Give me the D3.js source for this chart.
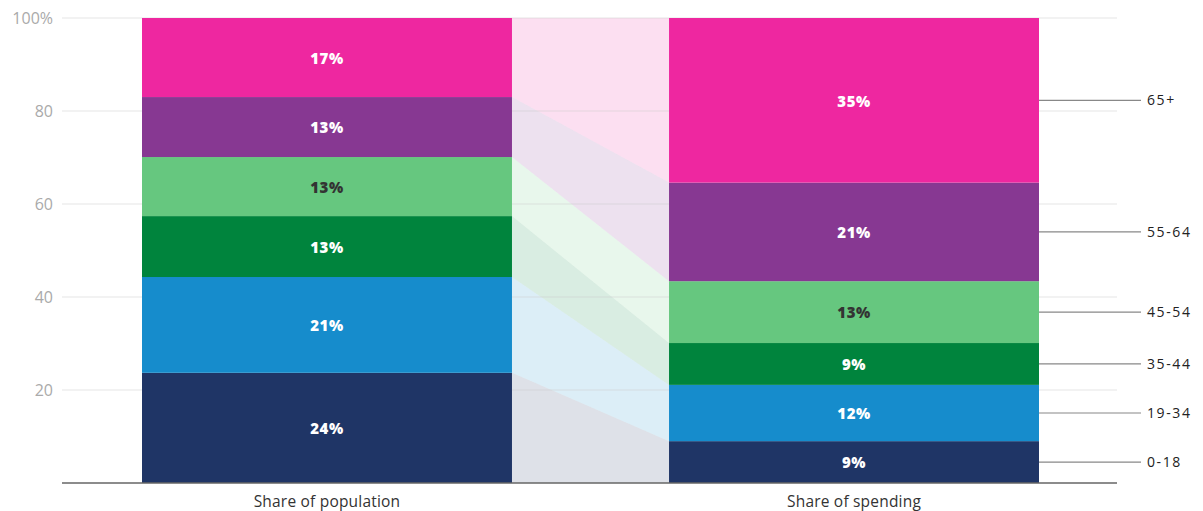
<!DOCTYPE html>
<html lang="en">
<head>
<meta charset="UTF-8">
<title>Share of population vs share of spending</title>
<style>
  body { margin: 0; background: #fff; font-family: "Open Sans", Lato, sans-serif; }
  .tick text { fill: #aaa; font-size: 16px; font-family: "Open Sans", sans-serif; }
  .seg-label { font-size: 15px; font-weight: 800; letter-spacing: 0.5px; }
  .age-label { font-size: 14px; fill: #222; letter-spacing: 1.6px; }
  .cat-label { font-size: 15.5px; fill: #333; letter-spacing: 0.2px; }
</style>
</head>
<body>
<svg width="1203" height="511"></svg>
<script src="https://d3js.org/d3.v7.min.js"></script>
<script>
// data
const ageGroups = ["0-18", "19-34", "35-44", "45-54", "55-64", "65+"];
const categories = ["Share of population", "Share of spending"];
const population = [23.7, 20.6, 13.1, 12.7, 12.9, 17.0];
const spending = [9.0, 12.1, 9.0, 13.3, 21.2, 35.4];
const colors = ["#1f3566", "#168ccc", "#00843d", "#66c77f", "#873892", "#ee27a0"];
const yTicks = [20, 40, 60, 80, 100];

const svg = d3.select("svg");

const x = d3.scaleBand()
    .domain(categories)
    .range([142, 1039])
    .paddingInner(0.298);

const y = d3.scaleLinear()
    .domain([0, 100])
    .range([483, 18]);

// stack each column
function stackUp(vals) {
  let acc = 0;
  return vals.map((v, i) => {
    const s = { group: ageGroups[i], y0: acc, y1: acc + v, value: v, color: colors[i] };
    acc += v;
    return s;
  });
}
const cols = [stackUp(population), stackUp(spending)];

// connector bands
const xl = x(categories[0]) + x.bandwidth();
const xr = x(categories[1]);
svg.append("g")
  .selectAll("path")
  .data(ageGroups.map((g, i) => ({ a: cols[0][i], b: cols[1][i], color: colors[i] })))
  .join("path")
    .attr("d", d => `M${xl},${y(d.a.y1)}L${xr},${y(d.b.y1)}L${xr},${y(d.b.y0)}L${xl},${y(d.a.y0)}Z`)
    .attr("fill", d => d.color)
    .attr("fill-opacity", 0.15);

// grid lines
svg.append("g")
  .selectAll("line")
  .data(yTicks)
  .join("line")
    .attr("x1", 62).attr("x2", 1117)
    .attr("y1", d => y(d)).attr("y2", d => y(d))
    .attr("stroke", "#ccc")
    .attr("stroke-opacity", 0.5)
    .attr("stroke-width", 1);

// y axis labels
const yAxis = svg.append("g")
    .attr("transform", "translate(53,0)")
    .call(d3.axisLeft(y).tickValues(yTicks).tickSize(0).tickFormat(d => d === 100 ? "100%" : d));
yAxis.select(".domain").remove();
yAxis.selectAll("text").attr("x", 0);

// bars
cols.forEach((col, ci) => {
  const g = svg.append("g");
  g.selectAll("rect")
    .data(col)
    .join("rect")
      .attr("x", x(categories[ci]))
      .attr("width", x.bandwidth())
      .attr("y", d => y(d.y1))
      .attr("height", d => y(d.y0) - y(d.y1))
      .attr("fill", d => d.color);
  g.selectAll("text")
    .data(col)
    .join("text")
      .attr("class", "seg-label")
      .attr("x", x(categories[ci]) + x.bandwidth() / 2)
      .attr("y", d => y((d.y0 + d.y1) / 2) + 1)
      .attr("dy", "0.35em")
      .attr("text-anchor", "middle")
      .attr("fill", d => d.group === "45-54" ? "#333" : "#fff")
      .text(d => Math.round(d.value) + "%");
});

// baseline
svg.append("line")
    .attr("x1", 62).attr("x2", 1117)
    .attr("y1", y(0)).attr("y2", y(0))
    .attr("stroke", "#666")
    .attr("stroke-width", 1.5);

// category labels
svg.append("g")
  .selectAll("text")
  .data(categories)
  .join("text")
    .attr("class", "cat-label")
    .attr("x", d => x(d) + x.bandwidth() / 2)
    .attr("y", 502)
    .attr("dy", "0.35em")
    .attr("text-anchor", "middle")
    .text(d => d);

// age group labels on the right
const legend = svg.append("g")
  .selectAll("g")
  .data(cols[1])
  .join("g")
    .attr("transform", d => `translate(${xr + x.bandwidth()},${y((d.y0 + d.y1) / 2)})`);
legend.append("line")
    .attr("x1", 0).attr("x2", 102)
    .attr("stroke", "#888")
    .attr("stroke-width", 1.2);
legend.append("text")
    .attr("class", "age-label")
    .attr("x", 108)
    .attr("dy", "0.35em")
    .text(d => d.group);
</script>
</body>
</html>
